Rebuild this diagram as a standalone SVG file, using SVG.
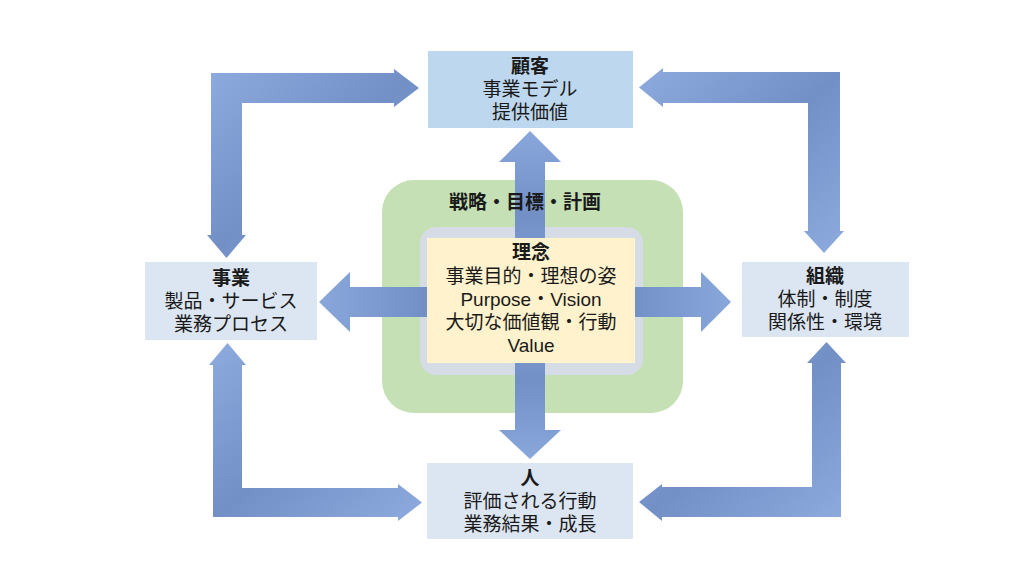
<svg xmlns="http://www.w3.org/2000/svg" width="1024" height="576" viewBox="0 0 1024 576">
<defs>
<linearGradient id="ga" x1="0" y1="0" x2="1" y2="1">
<stop offset="0" stop-color="#8eabdf"/>
<stop offset="0.5" stop-color="#7290c6"/>
<stop offset="1" stop-color="#8eabdf"/>
</linearGradient>
<linearGradient id="gh" x1="0" y1="0" x2="1" y2="0">
<stop offset="0" stop-color="#8aa7dc"/>
<stop offset="0.5" stop-color="#7290c6"/>
<stop offset="1" stop-color="#8aa7dc"/>
</linearGradient>
<linearGradient id="gv" x1="0" y1="0" x2="0" y2="1">
<stop offset="0" stop-color="#8aa7dc"/>
<stop offset="0.5" stop-color="#7290c6"/>
<stop offset="1" stop-color="#8aa7dc"/>
</linearGradient>
</defs>
<style>
text{font-family:"Liberation Sans","Noto Sans CJK JP",sans-serif;font-size:19px;fill:#1a1a1a;text-anchor:middle}
.b{font-weight:bold}
.node{fill:#dce6f2}
.arr{stroke:none}
</style>
<rect width="1024" height="576" fill="#ffffff"/>

<g id="strategy">
<rect x="382" y="180" width="301" height="233" rx="32" fill="#c5e0b4"/>
<rect x="420" y="227" width="223" height="148" rx="16" fill="#d6dce5"/>
</g>

<g id="connectors">
<path class="arr" fill="url(#ga)" d="M211,73 L394,73 L394,69 L419,88 L394,107 L394,103 L242,103 L242,235 L246,235 L226.5,258 L207,235 L211,235 Z"/>
<path class="arr" fill="url(#ga)" d="M840,72 L840,231 L844,231 L824,253 L804,231 L808,231 L808,103 L663,103 L663,107 L639,87.5 L663,68 L663,72 Z"/>
<path class="arr" fill="url(#ga)" d="M213,517 L213,365 L209,365 L227.5,343 L246,365 L242,365 L242,488 L398,488 L398,484 L422,502.5 L398,521 L398,517 Z"/>
<path class="arr" fill="url(#ga)" d="M841,517 L662,517 L662,521 L639,502 L662,484 L662,487 L812,487 L812,363 L807,363 L826.5,342 L846,363 L841,363 Z"/>
<path class="arr" fill="url(#gv)" d="M515,300 L515,162 L499,162 L530,131 L561,162 L545,162 L545,300 Z"/>
<path class="arr" fill="url(#gv)" d="M515,300 L515,430 L499,430 L530,459 L561,430 L545,430 L545,300 Z"/>
<path class="arr" fill="url(#gh)" d="M530,287 L350,287 L350,272 L319,302 L350,332 L350,317 L530,317 Z"/>
<path class="arr" fill="url(#gh)" d="M530,287 L701,287 L701,272 L731,302 L701,332 L701,317 L530,317 Z"/>
</g>

<g id="philosophy">
<rect x="427" y="238" width="208" height="125" fill="#fff2cc"/>
<text x="531" y="259" class="b">理念</text>
<text x="531" y="283">事業目的・理想の姿</text>
<text x="531" y="306">Purpose・Vision</text>
<text x="531" y="329">大切な価値観・行動</text>
<text x="531" y="352">Value</text>
</g>

<g id="strategy-label">
<text x="525" y="209" class="b">戦略・目標・計画</text>
</g>

<g id="customer">
<rect x="428" y="51" width="205" height="77" fill="#bdd7ee"/>
<text x="530" y="73" class="b">顧客</text>
<text x="530" y="96">事業モデル</text>
<text x="530" y="119">提供価値</text>
</g>

<g id="business">
<rect x="145" y="262" width="172" height="78" class="node"/>
<text x="231" y="285" class="b">事業</text>
<text x="231" y="308">製品・サービス</text>
<text x="231" y="331">業務プロセス</text>
</g>

<g id="organization">
<rect x="742" y="262" width="167" height="75" class="node"/>
<text x="825" y="283" class="b">組織</text>
<text x="825" y="306">体制・制度</text>
<text x="825" y="329">関係性・環境</text>
</g>

<g id="people">
<rect x="427" y="463" width="206" height="76" class="node"/>
<text x="530" y="485" class="b">人</text>
<text x="530" y="508">評価される行動</text>
<text x="530" y="531">業務結果・成長</text>
</g>
</svg>
